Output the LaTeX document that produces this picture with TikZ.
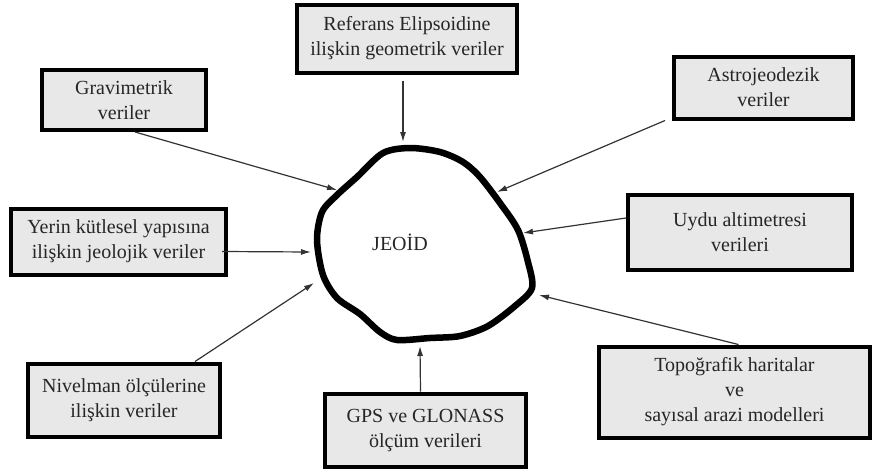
\documentclass[tikz,border=0pt]{standalone}
\usepackage{fontspec}
\setmainfont{Liberation Serif}
\usetikzlibrary{positioning}
\usetikzlibrary{arrows.meta}
\tikzset{
  every node/.append style={font=\fontsize{20}{25}\selectfont, text=black!85},
  every text node part/.append style={align=center}
}
\tikzstyle{arrow} = [-{Latex[length=10pt,width=6pt]}, line width=1.2pt, draw=black!80]
\tikzstyle{veri} = [draw=black, line width=4pt, fill=black!9, inner sep=2pt]
\newcommand\kutu[5]{
  % #1 - Tikz name
  % #2 - Location (center)
  % #3 - Width
  % #4 - Height
  % #5 - Body
  % for example: \kutu{grav}{124,100}{168}{63}{Gravimetrik\\veriler}
  \node [veri, minimum width=#3pt, minimum height=#4pt] at (#2) (#1) {#5};
}

\begin{document}
\begin{tikzpicture}[x=1pt, y=-1pt]
  \useasboundingbox (0,0) rectangle (878,472);

  \kutu{grav}{124,100}{164}{60}{Gravimetrik\\veriler}
  \kutu{ref}{407,38.5}{220}{68}{Referans Elipsoidine\\ilişkin geometrik veriler}
  \kutu{astro}{763.5,87.5}{179}{62}{Astrojeodezik\\veriler}
  \kutu{uydu}{740,232}{224}{75}{Uydu altimetresi\\verileri}
  \kutu{yerin}{118.5,241.5}{215}{66}{Yerin kütlesel yapısına\\ilişkin jeolojik veriler}
  \kutu{nivel}{124,400}{192}{73}{Nivelman ölçülerine\\ilişkin veriler}
  \kutu{gps}{425.5,430}{201}{73}{GPS ve GLONASS\\ölçüm verileri}
  \kutu{topo}{734.5,392}{271}{91}{Topoğrafik haritalar\\ve\\sayısal arazi modelleri}

  % jeoid
  \draw[line width=6.5pt, line join=round] plot[smooth cycle] coordinates {
    (383,153) (410,148) (440,152) (463,162) (480,177) (500,203) (518,230)
    (528,262) (532,288) (515,306) (488,326) (460,336) (430,338) (397,340)
    (380,332) (360,314) (337,298) (323,275) (317,240) (322,212) (337,195)
    (357,177)};
  \node (jeoid) at (400,242) {JEOİD};

  \coordinate (u-ref) at (403,142);
  \coordinate (u-grav) at (337,190);
  \coordinate (u-yerin) at (311,252);
  \coordinate (u-nivel) at (314,283);
  \coordinate (u-gps) at (420,346);
  \coordinate (u-topo) at (539,295);
  \coordinate (u-uydu) at (523,233);
  \coordinate (u-astro) at (497,192);

  \draw[arrow] ([xshift=-4pt, yshift=-6pt]ref.south) -- (u-ref);
  \draw[arrow] ([xshift=11pt]grav.south) -- (u-grav);
  \draw[arrow] ([xshift=-6pt, yshift=-10pt]yerin.east) -- (u-yerin);
  \draw[arrow] ([xshift=71pt]nivel.north) -- (u-nivel);
  \draw[arrow] ([xshift=-5pt]gps.north) -- (u-gps);
  \draw[arrow] ([xshift=4pt]topo.north) -- (u-topo);
  \draw[arrow] ([yshift=14pt]uydu.west) -- (u-uydu);
  \draw[arrow] ([xshift=-7pt]astro.south west) -- (u-astro);
\end{tikzpicture}
\end{document}
